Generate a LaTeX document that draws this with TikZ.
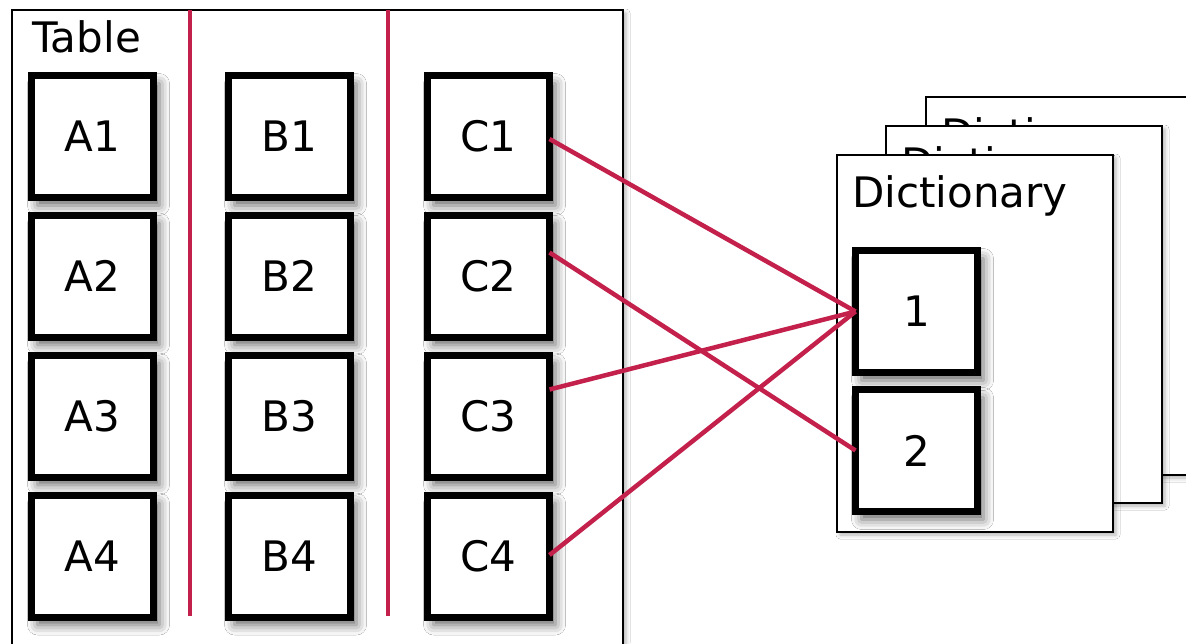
\documentclass[tikz,border=0pt]{standalone}
\usepackage{fontspec}
\setmainfont{DejaVu Sans}
\usetikzlibrary{shadows.blur}
\definecolor{linkred}{RGB}{196,32,76}
\begin{document}
\begin{tikzpicture}[x=1pt,y=-1pt,
  every node/.style={font=\fontsize{42}{50}\selectfont},
  cellbox/.style={draw=black,fill=white,line width=7pt,minimum size=122pt,inner sep=0pt,outer sep=0pt,
    blur shadow={shadow xshift=6pt,shadow yshift=-8pt,shadow blur radius=10pt,shadow opacity=60}},
  framebox/.style={draw=black,fill=white,line width=2pt,
    blur shadow={shadow xshift=3pt,shadow yshift=-3pt,shadow blur radius=4pt,shadow opacity=30}},
  divider/.style={draw=linkred,line width=4.5pt},
  link/.style={draw=linkred,line width=4.5pt},
  caption/.style={anchor=base west,inner sep=0pt}]
\clip (0,0) rectangle (1186,643);
\fill[white] (0,0) rectangle (1186,643);
% table frame
\path[framebox] (12,10) rectangle (623,680);
\node[caption] (tablelbl) at (32,52) {Table};
% dividers
\coordinate (d1top) at (190,10);
\coordinate (d1bot) at (190,616);
\coordinate (d2top) at (388,10);
\coordinate (d2bot) at (388,616);
\draw[divider] (d1top) -- (d1bot);
\draw[divider] (d2top) -- (d2bot);
% cells
\foreach \r/\y in {1/136.5,2/276,3/416,4/556}{
  \node[cellbox] (A\r) at (92.5,\y) {A\r};
  \node[cellbox] (B\r) at (289.5,\y) {B\r};
  \node[cellbox] (C\r) at (488.5,\y) {C\r};
}
% dictionary stack
\path[framebox] (926,97) rectangle (1220,475);
\node[caption] (dictc) at (941,149) {Dictionary};
\path[framebox] (886,126) rectangle (1162,503);
\node[caption] (dictb) at (901,178) {Dictionary};
\path[framebox] (837,155) rectangle (1113,532);
\node[caption] (dicta) at (852,207) {Dictionary};
\node[cellbox] (k1) at (916.5,311.5) {1};
\node[cellbox] (k2) at (916.5,450.5) {2};
% links
\draw[link] ([yshift=-2.5pt]C1.east) -- (k1.west);
\draw[link] ([yshift=23.5pt]C2.east) -- (k2.west);
\draw[link] ([yshift=26.5pt]C3.east) -- (k1.west);
\draw[link] ([yshift=1pt]C4.east) -- (k1.west);
\end{tikzpicture}
\end{document}
